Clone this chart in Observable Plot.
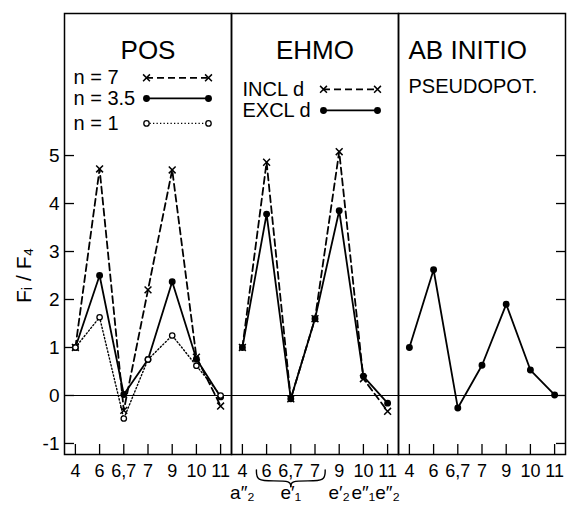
<!DOCTYPE html>
<html><head><meta charset="utf-8">
<script src="https://cdn.jsdelivr.net/npm/d3@7"></script>
<script src="https://cdn.jsdelivr.net/npm/@observablehq/plot@0.6"></script>
<style>body{margin:0;background:#fff}</style>
</head><body><div id="chart"></div>
<script>
// ---- data ----
const panels = ["POS", "EHMO", "AB INITIO"];
const categories = ["4", "6", "6,7", "7", "9", "10", "11"];
const posN7    = [1.0, 4.72, -0.31, 2.20, 4.70, 0.80, -0.22];
const posN35   = [1.0, 2.50,  0.02, 0.75, 2.37, 0.76, -0.03];
const posN1    = [1.0, 1.63, -0.48, 0.75, 1.25, 0.62,  0.00];
const ehmoIncl = [1.0, 4.86, -0.07, 1.60, 5.08, 0.35, -0.33];
const ehmoExcl = [1.0, 3.78, -0.07, 1.60, 3.85, 0.40, -0.16];
const abInitio = [1.0, 2.62, -0.26, 0.63, 1.90, 0.53,  0.01];
const yTicks = [-1, 0, 1, 2, 3, 4, 5];
const posLegend = ["n = 7", "n = 3.5", "n = 1"];
const ehmoLegend = ["INCL d", "EXCL d"];
const symmetryAt = ["4", "6,7", "9", "10", "11"];
const symmetryText = ["a″₂", "e′₁", "e′₂", "e″₁", "e″₂"];
const braceFrom = "6", braceTo = "7";

// ---- tables ----
const seriesList = [
  {panel: "POS", name: "n = 7", values: posN7},
  {panel: "POS", name: "n = 3.5", values: posN35},
  {panel: "POS", name: "n = 1", values: posN1},
  {panel: "EHMO", name: "INCL d", values: ehmoIncl},
  {panel: "EHMO", name: "EXCL d", values: ehmoExcl},
  {panel: "AB INITIO", name: "PSEUDOPOT.", values: abInitio}
];
const rows = seriesList.flatMap(s => s.values.map((v, i) => ({panel: s.panel, series: s.name, x: i, y: v})));
const idx = categories.map((_, i) => i);

const lineStyle = {
  dash: {strokeDasharray: "7,4", strokeWidth: 1.8},
  solid: {strokeWidth: 1.8},
  dot: {strokeDasharray: "1.3,2.2", strokeWidth: 1.4}
};
const markerStyle = {
  times: {symbol: "times", r: 3.2, stroke: "black", strokeWidth: 1.5, fill: "none"},
  filled: {r: 2.7, fill: "black", stroke: "black"},
  open: {r: 2.7, fill: "white", stroke: "black", strokeWidth: 1.3}
};
const look = {
  "n = 7": ["dash", "times"], "n = 3.5": ["solid", "filled"], "n = 1": ["dot", "open"],
  "INCL d": ["dash", "times"], "EXCL d": ["solid", "filled"], "PSEUDOPOT.": ["solid", "filled"]
};

const marks = [
  Plot.frame({strokeWidth: 1.5}),
  Plot.ruleY([0], {strokeWidth: 1.2}),
  Plot.axisY({anchor: "left", ticks: yTicks, tickSize: -10, tickFormat: () => "", label: null, strokeWidth: 1.3}),
  Plot.axisY({anchor: "left", ticks: yTicks, tickSize: 0, tickPadding: 5, tickFormat: d => String(d), fontSize: 19, label: null}),
  Plot.axisY({anchor: "right", ticks: yTicks, tickSize: -10, tickFormat: () => "", label: null, strokeWidth: 1.3}),
  Plot.axisX({ticks: idx, tickSize: -10, tickFormat: () => "", label: null, strokeWidth: 1.3}),
  Plot.axisX({ticks: idx, tickSize: 0, tickPadding: 10, tickFormat: i => categories[i], fontSize: 18, label: null})
];

for (const s of seriesList) {
  const [ls, ms] = look[s.name];
  const data = rows.filter(d => d.series === s.name);
  marks.push(Plot.line(data, {fx: "panel", x: "x", y: "y", stroke: "black", ...lineStyle[ls]}));
  marks.push(Plot.dot(data, {fx: "panel", x: "x", y: "y", ...markerStyle[ms]}));
}

// titles
marks.push(Plot.text([{panel: "POS", t: "POS"}, {panel: "EHMO", t: "EHMO"}], {fx: "panel", text: "t", frameAnchor: "top", dy: 27, fontSize: 26}));
marks.push(Plot.text([{panel: "AB INITIO", t: "AB INITIO"}], {fx: "panel", text: "t", frameAnchor: "top-left", textAnchor: "start", dx: 10, dy: 27, fontSize: 26}));
marks.push(Plot.text([{panel: "AB INITIO", t: "PSEUDOPOT."}], {fx: "panel", text: "t", frameAnchor: "top-left", textAnchor: "start", dx: 10, dy: 65, fontSize: 20}));

// legends
function legendRow(panel, name, yv, textDx, lineL, lineR, panelW) {
  const [ls, ms] = look[name];
  const d = [{panel}];
  return [
    Plot.text(d, {fx: "panel", y: yv, text: () => name, frameAnchor: "left", textAnchor: "start", dx: textDx, fontSize: 20}),
    Plot.ruleY(d, {fx: "panel", y: yv, insetLeft: lineL, insetRight: panelW - lineR, stroke: "black", ...lineStyle[ls]}),
    Plot.dot(d, {fx: "panel", y: yv, frameAnchor: "left", dx: lineL, ...markerStyle[ms]}),
    Plot.dot(d, {fx: "panel", y: yv, frameAnchor: "left", dx: lineR, ...markerStyle[ms]})
  ];
}
const pw = (567 - 63 - 1) / 3;
[6.62, 6.19, 5.67].forEach((yv, k) => marks.push(...legendRow("POS", posLegend[k], yv, 9, 82, 144, pw)));
[6.38, 5.94].forEach((yv, k) => marks.push(...legendRow("EHMO", ehmoLegend[k], yv, 11, 92, 146, pw)));

// y label
marks.push(Plot.text([{panel: "POS"}], {fx: "panel", text: () => "Fᵢ / F₄", frameAnchor: "left", dx: -40, dy: 69, rotate: -90, fontSize: 21}));

// symmetry labels under EHMO
marks.push(Plot.text(symmetryAt.map((c, k) => ({panel: "EHMO", x: categories.indexOf(c), t: symmetryText[k]})),
  {fx: "panel", x: "x", text: "t", frameAnchor: "bottom", dy: 44, fontSize: 19}));

// brace
const a = categories.indexOf(braceFrom), b = categories.indexOf(braceTo), m = (a + b) / 2;
const yTop = -1.55, yFlat = -1.78, yCusp = -1.9, ext = 0.42;
const brace = [
  ...[[a - ext, yTop], [a - ext, yFlat], [(a - ext + m) / 2, yFlat], [m, yFlat], [m, yCusp]].map(([x, y]) => ({panel: "EHMO", side: "L", x, y})),
  ...[[b + ext, yTop], [b + ext, yFlat], [(b + ext + m) / 2, yFlat], [m, yFlat], [m, yCusp]].map(([x, y]) => ({panel: "EHMO", side: "R", x, y}))
];
marks.push(Plot.line(brace, {fx: "panel", x: "x", y: "y", z: "side", curve: "basis", stroke: "black", strokeWidth: 1.4}));

const chart = Plot.plot({
  width: 567, height: 506,
  marginLeft: 63, marginRight: 1, marginTop: 13, marginBottom: 52,
  style: {fontFamily: "'Liberation Sans', Arial, sans-serif", fontSize: "18px", background: "white", color: "black"},
  fx: {domain: panels, padding: 0, axis: null},
  x: {domain: [-0.45, categories.length - 1 + 0.45]},
  y: {domain: [-1.23, 7.96]},
  marks
});
document.getElementById("chart").append(chart);
</script>
</body></html>
